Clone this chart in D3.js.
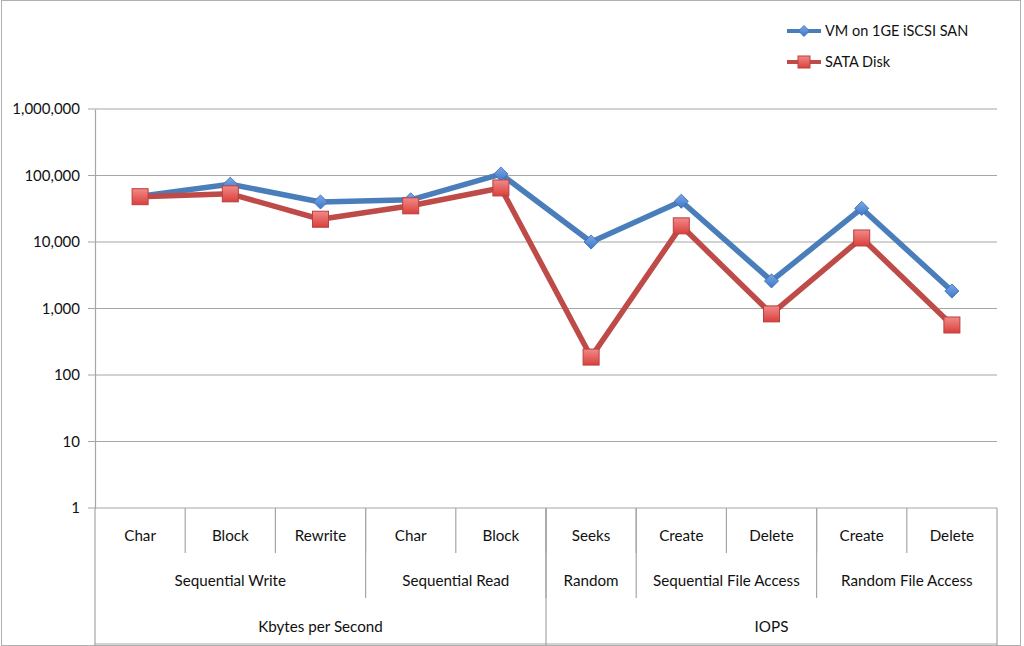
<!DOCTYPE html>
<html><head><meta charset="utf-8">
<script src="https://cdn.jsdelivr.net/npm/d3@7"></script>
<style>body{margin:0;background:#fff}svg{display:block}text{font-family:Lato,"Open Sans",sans-serif;fill:#111}</style>
</head><body><svg id="c" width="1024" height="646"></svg>
<script>
const categories = ["Char","Block","Rewrite","Char","Block","Seeks","Create","Delete","Create","Delete"];
const groups = [{name:"Sequential Write",n:3},{name:"Sequential Read",n:2},{name:"Random",n:1},{name:"Sequential File Access",n:2},{name:"Random File Access",n:2}];
const units = [{name:"Kbytes per Second",n:5},{name:"IOPS",n:5}];
const vmSan = [49000,74000,40000,43000,105000,10000,41000,2600,32000,1830];
const sataDisk = [48000,53000,22000,35000,65000,186,17500,830,11500,565];
const yTicks = [1,10,100,1000,10000,100000,1000000];

const svg = d3.select("#c");
const L=95, R=997, T=109, B=508;
const grey="#a6a6a6";
svg.append("rect").attr("x",1.5).attr("y",0.5).attr("width",1019).attr("height",645).attr("fill","none").attr("stroke","#b0b0b0");

const x = d3.scaleBand().domain(d3.range(categories.length)).range([L,R]);
const y = d3.scaleLog().domain([1,1000000]).range([B,T]);

svg.append("g").selectAll("line").data(yTicks).join("line")
 .attr("x1",L-7).attr("x2",R).attr("y1",d=>y(d)).attr("y2",d=>y(d)).attr("stroke",grey).attr("stroke-width",1.2);
const yAxis = d3.axisLeft(y).tickValues(yTicks).tickFormat(d3.format(",")).tickSize(0).tickPadding(15);
const ya = svg.append("g").attr("transform",`translate(${L},0)`).call(yAxis);
ya.select(".domain").attr("stroke",grey).attr("stroke-width",1.2);
ya.selectAll("text").attr("font-size",15).attr("font-family","Lato,sans-serif").attr("fill","#111");

const fs=15.2;
const cg = svg.append("g");
cg.append("line").attr("x1",L).attr("x2",L).attr("y1",B).attr("y2",646).attr("stroke",grey).attr("stroke-width",1.2);
cg.append("line").attr("x1",R).attr("x2",R).attr("y1",B).attr("y2",646).attr("stroke",grey).attr("stroke-width",1.2);
cg.append("line").attr("x1",L).attr("x2",R).attr("y1",644).attr("y2",644).attr("stroke",grey).attr("stroke-width",1.2);
cg.selectAll("text.c").data(categories).join("text").attr("x",(d,i)=>x(i)+x.bandwidth()/2).attr("y",541)
 .attr("text-anchor","middle").attr("font-size",fs).text(d=>d);
cg.selectAll("line.d1").data(d3.range(1,categories.length)).join("line")
 .attr("x1",i=>x(i)).attr("x2",i=>x(i)).attr("y1",B).attr("y2",553).attr("stroke",grey).attr("stroke-width",1.2);
let acc=0; const gpos=groups.map(g=>{const s=acc; acc+=g.n; return {name:g.name,s,e:acc};});
cg.selectAll("text.g").data(gpos).join("text").attr("x",d=>(x(d.s)+x(d.e-1)+x.bandwidth())/2).attr("y",586)
 .attr("text-anchor","middle").attr("font-size",fs).text(d=>d.name);
cg.selectAll("line.d2").data(gpos.slice(1)).join("line")
 .attr("x1",d=>x(d.s)).attr("x2",d=>x(d.s)).attr("y1",B).attr("y2",598).attr("stroke",grey).attr("stroke-width",1.2);
acc=0; const upos=units.map(g=>{const s=acc; acc+=g.n; return {name:g.name,s,e:acc};});
cg.selectAll("text.u").data(upos).join("text").attr("x",d=>(x(d.s)+x(d.e-1)+x.bandwidth())/2).attr("y",632)
 .attr("text-anchor","middle").attr("font-size",fs).text(d=>d.name);
cg.selectAll("line.d3").data(upos.slice(1)).join("line")
 .attr("x1",d=>x(d.s)).attr("x2",d=>x(d.s)).attr("y1",B).attr("y2",646).attr("stroke",grey).attr("stroke-width",1.2);

const defs=svg.append("defs");
const gr=defs.append("linearGradient").attr("id","rg").attr("x1",0).attr("y1",0).attr("x2",0).attr("y2",1);
gr.append("stop").attr("offset","0%").attr("stop-color","#f28a88");
gr.append("stop").attr("offset","100%").attr("stop-color","#d9403d");
const gb=defs.append("linearGradient").attr("id","bg").attr("x1",0).attr("y1",0).attr("x2",1).attr("y2",1);
gb.append("stop").attr("offset","0%").attr("stop-color","#7aa8e6");
gb.append("stop").attr("offset","100%").attr("stop-color","#3f77c9");

const cx=i=>x(i)+x.bandwidth()/2;
const line=d3.line().x((d,i)=>cx(i)).y(d=>y(d));
const blue="#4a7ebb", red="#be4b48";
svg.append("path").datum(vmSan).attr("d",line).attr("fill","none").attr("stroke",blue).attr("stroke-width",5.5).attr("stroke-linejoin","round");
svg.append("path").datum(sataDisk).attr("d",line).attr("fill","none").attr("stroke",red).attr("stroke-width",5.5).attr("stroke-linejoin","round");
svg.append("g").selectAll("path").data(vmSan).join("path").attr("d",d3.symbol().type(d3.symbolSquare).size(100))
 .attr("transform",(d,i)=>`translate(${cx(i)},${y(d)}) rotate(45)`).attr("fill","url(#bg)").attr("stroke","#3a6db0").attr("stroke-width",0.8);
svg.append("g").selectAll("rect").data(sataDisk).join("rect").attr("x",(d,i)=>cx(i)-8).attr("y",d=>y(d)-8).attr("width",16).attr("height",16)
 .attr("fill","url(#rg)").attr("stroke","#b8403d").attr("stroke-width",1);

const leg=[{name:"VM on 1GE iSCSI SAN",c:blue,t:"d",y:31},{name:"SATA Disk",c:red,t:"s",y:62}];
const lg=svg.append("g");
leg.forEach(l=>{
 lg.append("line").attr("x1",787).attr("x2",821).attr("y1",l.y).attr("y2",l.y).attr("stroke",l.c).attr("stroke-width",4);
 if(l.t==="d") lg.append("path").attr("d",d3.symbol().type(d3.symbolSquare).size(60)).attr("transform",`translate(804,${l.y}) rotate(45)`).attr("fill","url(#bg)").attr("stroke","#3a6db0").attr("stroke-width",0.8);
 else lg.append("rect").attr("x",798).attr("y",l.y-6).attr("width",12).attr("height",12).attr("fill","url(#rg)").attr("stroke","#b8403d");
 lg.append("text").attr("x",825).attr("y",l.y+5).attr("font-size",14.5).text(l.name);
});
</script></body></html>
